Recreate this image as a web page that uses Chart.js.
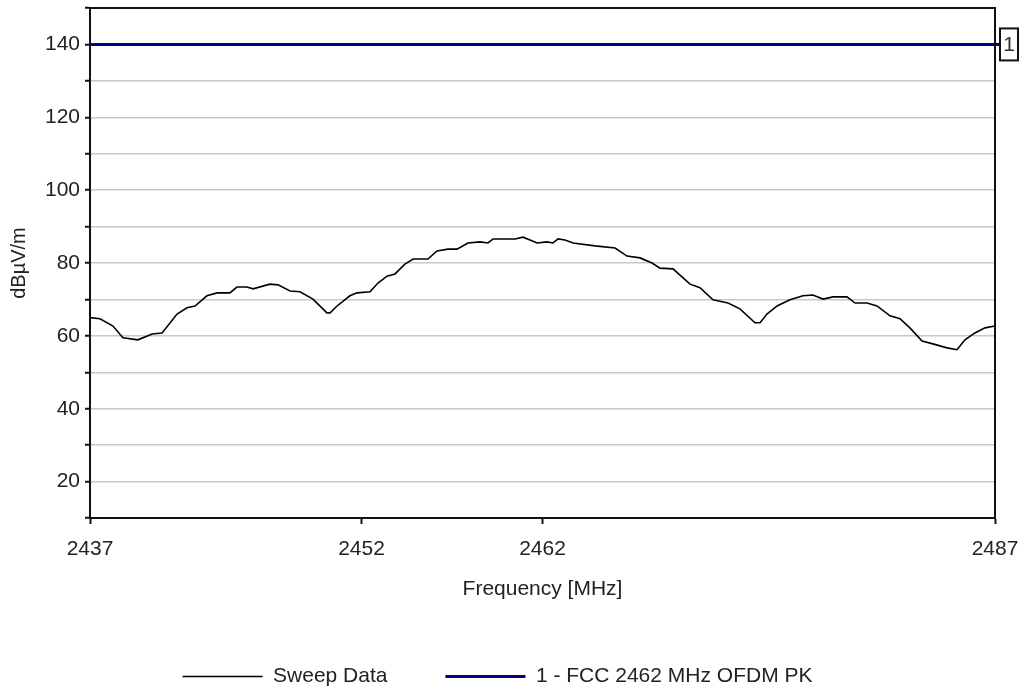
<!DOCTYPE html>
<html>
<head>
<meta charset="utf-8">
<title>Sweep Data</title>
<script src="https://cdn.jsdelivr.net/npm/chart.js@4/dist/chart.umd.min.js"></script>
<style>
  body { margin: 0; background: #fff; }
  #chart { display: block; }
</style>
</head>
<body>
<canvas id="chart" width="1023" height="690"></canvas>
<script>
// sweep: frequency (MHz) and level (dBµV/m)
const sweepFreq = [
  2437.00, 2437.55, 2438.27, 2438.82, 2439.65, 2440.43, 2440.98, 2441.81, 2442.36, 2442.80,
  2443.46, 2444.02, 2444.73, 2445.12, 2445.67, 2446.01, 2446.94, 2447.39, 2448.05, 2448.60,
  2449.32, 2450.09, 2450.26, 2450.65, 2451.36, 2451.75, 2452.47, 2452.91, 2453.41, 2453.85,
  2454.40, 2454.85, 2455.67, 2456.17, 2456.78, 2457.28, 2457.88, 2458.55, 2458.99, 2459.27,
  2460.48, 2460.92, 2461.31, 2461.70, 2462.25, 2462.58, 2462.86, 2463.24, 2463.69, 2464.90,
  2466.01, 2466.67, 2467.39, 2468.05, 2468.49, 2469.21, 2470.15, 2470.70, 2471.42, 2472.25,
  2472.91, 2473.74, 2474.02, 2474.40, 2474.96, 2475.67, 2476.39, 2476.94, 2477.50, 2478.05,
  2478.82, 2479.27, 2479.93, 2480.48, 2481.20, 2481.75, 2482.30, 2482.97, 2483.57, 2484.35,
  2484.90, 2485.34, 2485.89, 2486.45, 2487.00
];
const sweepLevel = [
  65.0, 64.7, 62.7, 59.5, 58.9, 60.5, 60.8, 66.0, 67.7, 68.2,
  71.0, 71.8, 71.8, 73.4, 73.4, 72.9, 74.2, 74.0, 72.3, 72.1,
  70.1, 66.3, 66.3, 68.2, 71.0, 71.8, 72.1, 74.5, 76.4, 77.0,
  79.7, 81.1, 81.1, 83.3, 83.8, 83.8, 85.5, 85.8, 85.5, 86.6,
  86.6, 87.1, 86.3, 85.5, 85.8, 85.5, 86.6, 86.3, 85.5, 84.7,
  84.1, 81.9, 81.4, 80.0, 78.6, 78.4, 74.2, 73.2, 69.9, 69.0,
  67.4, 63.6, 63.6, 66.0, 68.2, 69.9, 71.0, 71.2, 70.1, 70.7,
  70.7, 69.0, 69.0, 68.2, 65.5, 64.7, 62.2, 58.6, 57.8, 56.7,
  56.2, 58.9, 60.8, 62.2, 62.7
];

// limit line 1
const limitLabel = '1';
const limitName = '1 - FCC 2462 MHz OFDM PK';
const limitFreq = [2437, 2487];
const limitLevel = [140, 140];

const xTicks = [2437, 2452, 2462, 2487];
const yMin = 10, yMax = 150, yStep = 10;

const FONT = { family: '"Liberation Sans", Arial, sans-serif', size: 21 };

// thin frame on top / right of the plot area
const frame = {
  id: 'frame',
  afterDraw(chart) {
    const { ctx, chartArea: a } = chart;
    ctx.save();
    ctx.strokeStyle = '#111';
    ctx.lineWidth = 2;
    ctx.beginPath();
    ctx.moveTo(a.left, a.top);
    ctx.lineTo(a.right, a.top);
    ctx.lineTo(a.right, a.bottom);
    ctx.stroke();
    ctx.restore();
  }
};

// boxed number at the right end of the limit line
const limitTag = {
  id: 'limitTag',
  afterDraw(chart) {
    const { ctx, chartArea: a } = chart;
    const y = chart.scales.y.getPixelForValue(limitLevel[limitLevel.length - 1]);
    ctx.save();
    ctx.strokeStyle = '#000080';
    ctx.lineWidth = 3;
    ctx.beginPath();
    ctx.moveTo(a.right, y);
    ctx.lineTo(a.right + 5, y);
    ctx.stroke();
    ctx.fillStyle = '#fff';
    ctx.fillRect(a.right + 5, y - 16, 18, 32);
    ctx.strokeStyle = '#111';
    ctx.lineWidth = 2;
    ctx.strokeRect(a.right + 5, y - 16, 18, 32);
    ctx.fillStyle = '#333';
    ctx.font = '21px ' + FONT.family;
    ctx.textAlign = 'center';
    ctx.textBaseline = 'middle';
    ctx.fillText(limitLabel, a.right + 14, y + 1);
    ctx.restore();
  }
};

// fixed legend height so the plot keeps its place
const legendHeight = {
  id: 'legendHeight',
  beforeInit(chart) {
    const fit = chart.legend.fit;
    chart.legend.fit = function () {
      fit.bind(chart.legend)();
      this.height = 82;
    };
  }
};

new Chart(document.getElementById('chart'), {
  type: 'line',
  data: {
    datasets: [
      {
        label: 'Sweep Data',
        data: sweepFreq.map((f, i) => ({ x: f, y: sweepLevel[i] })),
        borderColor: '#000',
        backgroundColor: '#000',
        borderWidth: 1.6,
        pointRadius: 0,
        tension: 0,
        pointStyle: 'line'
      },
      {
        label: limitName,
        data: limitFreq.map((f, i) => ({ x: f, y: limitLevel[i] })),
        borderColor: '#000080',
        backgroundColor: '#000080',
        borderWidth: 3,
        pointRadius: 0,
        pointStyle: 'line'
      }
    ]
  },
  options: {
    responsive: false,
    animation: false,
    layout: { padding: { top: 8, right: 28, left: 0, bottom: 0 } },
    plugins: {
      tooltip: { enabled: false },
      legend: {
        position: 'bottom',
        labels: {
          usePointStyle: true,
          pointStyleWidth: 80,
          padding: 58,
          color: '#222',
          font: FONT
        }
      }
    },
    scales: {
      x: {
        type: 'linear',
        min: 2437,
        max: 2487,
        afterBuildTicks: s => { s.ticks = xTicks.map(v => ({ value: v })); },
        afterFit: s => { s.height = 690 - 518 - 82; s.paddingLeft = 0; s.paddingRight = 0; },
        border: { color: '#111', width: 2 },
        grid: { drawOnChartArea: false, tickLength: 6, tickColor: '#111', tickWidth: 2 },
        ticks: { color: '#222', font: FONT, padding: 13, maxRotation: 0, callback: v => String(v) },
        title: { display: true, text: 'Frequency [MHz]', color: '#222', font: FONT, padding: { top: 0, bottom: 6 } }
      },
      y: {
        min: yMin,
        max: yMax,
        afterBuildTicks: s => {
          const t = [];
          for (let v = yMin; v <= yMax; v += yStep) t.push({ value: v });
          s.ticks = t;
        },
        afterFit: s => { s.width = 90; s.paddingTop = 0; s.paddingBottom = 0; },
        border: { color: '#111', width: 2 },
        grid: { color: '#c8c8c8', lineWidth: 1.5, tickLength: 5, tickColor: '#111', tickWidth: 2 },
        ticks: {
          color: '#222',
          font: FONT,
          padding: 5,
          callback: v => (v % 20 === 0 && v > yMin && v < yMax) ? v : ''
        },
        title: { display: true, text: 'dBµV/m', color: '#222', font: { family: FONT.family, size: 20 }, padding: { top: 7, bottom: 0 } }
      }
    }
  },
  plugins: [frame, limitTag, legendHeight]
});
</script>
</body>
</html>
